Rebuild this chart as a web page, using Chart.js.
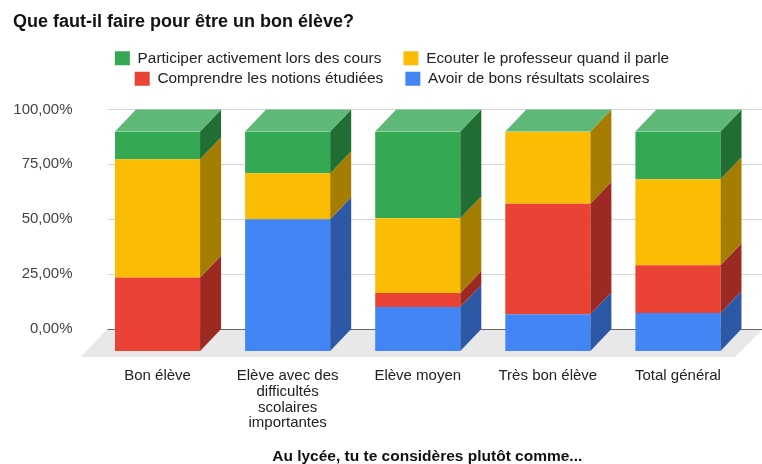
<!DOCTYPE html>
<html>
<head>
<meta charset="utf-8">
<script src="https://cdn.jsdelivr.net/npm/chart.js@4/dist/chart.umd.min.js"></script>
<style>
  html, body { margin: 0; padding: 0; background: #fff; }
  #wrap { width: 762px; height: 464px; }
</style>
</head>
<body>
<div id="wrap"><canvas id="myChart"></canvas></div>
<script>
// categories (x axis)
var categories = [
  'Bon élève',
  ['Elève avec des', 'difficultés', 'scolaires', 'importantes'],
  'Elève moyen',
  'Très bon élève',
  'Total général'
];

// series, bottom of the stack first (percent)
var resultats = [0, 60, 20, 16.7, 17.3];      // Avoir de bons résultats scolaires
var notions = [33.5, 0, 6.4, 50.4, 21.8];     // Comprendre les notions étudiées
var ecouter = [53.8, 20.9, 34.1, 32.9, 39.1]; // Ecouter le professeur quand il parle
var participer = [12.7, 19.1, 39.5, 0, 21.8]; // Participer activement lors des cours

var yTicks = [0, 25, 50, 75, 100];

// 3d look, offset of the back plane
var depthX = 21, depthY = 22;

var bars3d = {
  id: 'bars3d',
  beforeInit: function (chart) {
    var legend = chart.legend;
    // some room between the legend and the plot
    var fit = legend.fit;
    legend.fit = function () {
      fit.call(this);
      this.height += 35;
    };
    // google centres the legend a bit more to the right
    var draw = legend.draw;
    legend.draw = function () {
      this.ctx.save();
      this.ctx.translate(14, 0);
      draw.call(this);
      this.ctx.restore();
    };
  },
  afterLayout: function (chart) {
    // axis title is centred on the plot plus its depth
    var s = chart.scales.x;
    if (!s._titleShifted) {
      var dt = s.drawTitle;
      s.drawTitle = function () {
        this.ctx.save();
        this.ctx.translate(depthX / 2 - 1, 0);
        dt.apply(this, arguments);
        this.ctx.restore();
      };
      s._titleShifted = true;
    }
  },
  beforeDatasetsDraw: function (chart) {
    var ctx = chart.ctx;
    var area = chart.chartArea;
    var yScale = chart.scales.y;
    var zero = yScale.getPixelForValue(0);
    ctx.save();
    // floor
    ctx.fillStyle = '#e8e8e8';
    ctx.beginPath();
    ctx.moveTo(area.left - 12, zero + 6);
    ctx.lineTo(area.left + 15, zero - depthY);
    ctx.lineTo(area.right + 20, zero - depthY);
    ctx.lineTo(area.right - 8, zero + 6);
    ctx.closePath();
    ctx.fill();
    // grid on the back plane
    yTicks.forEach(function (v) {
      var py = Math.round(yScale.getPixelForValue(v) - depthY) + 0.5;
      ctx.strokeStyle = v === 0 ? '#666' : '#d6d6d6';
      ctx.lineWidth = 1;
      ctx.beginPath();
      ctx.moveTo(area.left + 15, py);
      ctx.lineTo(area.right + 20, py);
      ctx.stroke();
    });
    ctx.restore();
  },
  afterDatasetsDraw: function (chart) {
    var ctx = chart.ctx;
    var sets = chart.data.datasets;
    ctx.save();
    sets.forEach(function (ds, i) {
      chart.getDatasetMeta(i).data.forEach(function (bar) {
        var p = bar.getProps(['x', 'y', 'base', 'width'], true);
        if (Math.abs(p.base - p.y) < 0.5) return;
        var r = p.x + p.width / 2;
        ctx.fillStyle = ds.sideColor;
        ctx.beginPath();
        ctx.moveTo(r, p.y);
        ctx.lineTo(r + depthX, p.y - depthY);
        ctx.lineTo(r + depthX, p.base - depthY);
        ctx.lineTo(r, p.base);
        ctx.closePath();
        ctx.fill();
      });
    });
    // top face, colour of the last series
    var last = sets.length - 1;
    chart.getDatasetMeta(last).data.forEach(function (bar) {
      var p = bar.getProps(['x', 'y', 'width'], true);
      var l = p.x - p.width / 2, r = p.x + p.width / 2;
      ctx.fillStyle = sets[last].topColor;
      ctx.beginPath();
      ctx.moveTo(l, p.y);
      ctx.lineTo(l + depthX, p.y - depthY);
      ctx.lineTo(r + depthX, p.y - depthY);
      ctx.lineTo(r, p.y);
      ctx.closePath();
      ctx.fill();
    });
    ctx.restore();
  }
};

var ctx = document.getElementById('myChart');
var myChart = new Chart(ctx, {
  type: 'bar',
  data: {
    labels: categories,
    datasets: [{
      label: 'Avoir de bons résultats scolaires',
      data: resultats,
      backgroundColor: '#4285f4',
      sideColor: '#2c58a6'
    }, {
      label: 'Comprendre les notions étudiées',
      data: notions,
      backgroundColor: '#ea4335',
      sideColor: '#9c2a23'
    }, {
      label: 'Ecouter le professeur quand il parle',
      data: ecouter,
      backgroundColor: '#fbbc04',
      sideColor: '#a57d00'
    }, {
      label: 'Participer activement lors des cours',
      data: participer,
      backgroundColor: '#34a853',
      sideColor: '#216e34',
      topColor: '#5eb978'
    }]
  },
  options: {
    responsive: true,
    maintainAspectRatio: false,
    animation: false,
    barPercentage: 0.654,
    categoryPercentage: 1,
    layout: {
      padding: { top: 0, left: 13, right: 19, bottom: 0 }
    },
    plugins: {
      title: {
        display: true,
        text: 'Que faut-il faire pour être un bon élève?',
        align: 'start',
        color: '#111',
        font: { family: 'Liberation Sans, Arial, sans-serif', size: 18, weight: 'bold' },
        padding: { top: 11, bottom: 13 }
      },
      legend: {
        display: true,
        position: 'top',
        labels: {
          boxWidth: 15,
          boxHeight: 14,
          padding: 5,
          color: '#222',
          font: { family: 'Liberation Sans, Arial, sans-serif', size: 15.4 },
          sort: function (a, b) { return b.datasetIndex - a.datasetIndex; },
          generateLabels: function (chart) {
            var items = Chart.defaults.plugins.legend.labels.generateLabels(chart);
            items.forEach(function (it) {
              // wider gap after the first item of each row
              if (it.datasetIndex === 3 || it.datasetIndex === 1) it.text = it.text + '    ';
            });
            return items;
          }
        }
      },
      tooltip: { enabled: false }
    },
    scales: {
      x: {
        stacked: true,
        grid: { display: false, drawTicks: false },
        border: { display: false },
        afterFit: function (scale) { scale.height = 113; },
        ticks: {
          padding: 17,
          maxRotation: 0,
          color: '#222',
          font: { family: 'Liberation Sans, Arial, sans-serif', size: 15, lineHeight: 1.05 }
        },
        title: {
          display: true,
          text: 'Au lycée, tu te considères plutôt comme...',
          color: '#111',
          font: { family: 'Liberation Sans, Arial, sans-serif', size: 15.5, weight: 'bold', lineHeight: 1 },
          padding: { top: 15, bottom: 0 }
        }
      },
      y: {
        stacked: true,
        min: 0,
        max: 100,
        grid: { display: false, drawTicks: false },
        border: { display: false },
        afterFit: function (scale) { scale.width = 79.5; },
        ticks: {
          stepSize: 25,
          padding: 20,
          labelOffset: -depthY,
          color: '#444',
          font: { family: 'Liberation Sans, Arial, sans-serif', size: 15 },
          callback: function (v) { return v.toFixed(2).replace('.', ',') + '%'; }
        }
      }
    }
  },
  plugins: [bars3d]
});
</script>
</body>
</html>
